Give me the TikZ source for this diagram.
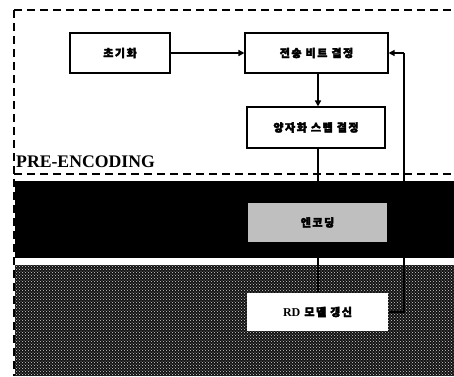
\documentclass[tikz,border=0pt]{standalone}
\usepackage{fontspec}
\setmainfont{Liberation Serif}
\newfontfamily\kr{Noto Sans CJK KR}[LetterSpace=14, FakeBold=3]
\usetikzlibrary{arrows.meta,patterns}
\tikzset{
  box/.style={draw=black, line width=1.1pt, fill=white, inner sep=0pt, font=\kr\bfseries\fontsize{11}{12}\selectfont},
  conn/.style={line width=1.6pt, -{Triangle[length=6pt,width=6pt]}},
  plain/.style={line width=1.3pt},
  border/.style={line width=2.6pt, dash pattern=on 8pt off 5pt},
}
\begin{document}
\begin{tikzpicture}[x=1pt,y=-1pt]
\useasboundingbox (0,0) rectangle (454,376);
\fill[white] (0,0) rectangle (454,376);
% regions
\fill[black] (15,181) rectangle (454,258);
\fill[black!93] (15,265) rectangle (454,376);
\fill[pattern=crosshatch dots, pattern color=gray!35] (15,265) rectangle (454,376);
\draw[white, line width=4.5pt, dash pattern=on 9pt off 2.5pt] (15,261.5) -- (454,261.5);
% borders
\draw[border] (14,10) -- (454,10);
\draw[border] (14,10) -- (14,376);
\draw[border] (14,174) -- (454,174);
\node[font=\bfseries\fontsize{17.7}{18}\selectfont, anchor=base west, inner sep=0pt] (pre) at (16,167) {PRE-ENCODING};
% boxes
\node[box, minimum width=100pt, minimum height=40pt] (init) at (120,53) {초기화};
\node[box, minimum width=143pt, minimum height=40pt] (tx) at (316.5,53) {전송 비트 결정};
\node[box, minimum width=138pt, minimum height=41pt] (q) at (316,127.5) {양자화 스텝 결정};
\node[box, draw=none, fill=gray!50, minimum width=139pt, minimum height=39pt] (enc) at (317.5,222.5) {엔코딩};
\node[box, draw=none, minimum width=141pt, minimum height=38pt] (rd) at (317.5,312) {{\rmfamily\bfseries\fontsize{12}{12}\selectfont RD} 모델 갱신};
\coordinate (fb) at (404,53);
% connectors
\draw[conn] (init) -- (tx);
\draw[conn] (tx.south -| 318,0) -- (q.north -| 318,0);
\draw[plain] (q.south -| 318,0) -- (enc.north -| 318,0);
\draw[plain] (enc.south -| 318,0) -- (rd.north -| 318,0);
\draw[plain] (rd.east) -| (fb);
\draw[conn, line width=1.3pt] (fb) -- (tx.east);
\end{tikzpicture}
\end{document}
